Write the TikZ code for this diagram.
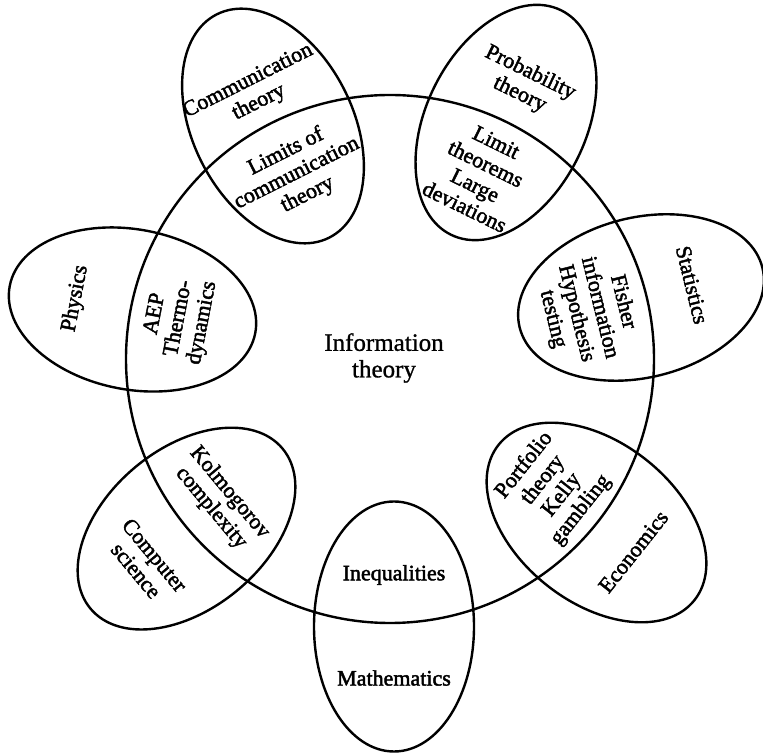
\documentclass[tikz,border=0pt]{standalone}
\usepackage{fontspec}
\setmainfont{Liberation Serif}
\newfontfamily\labelfont{Liberation Serif}[FakeBold=2]
\newfontfamily\hubfont{Liberation Serif}[FakeBold=1]
\begin{document}
\begin{tikzpicture}[x=1pt,y=1pt,
  ring/.style={line width=2.4pt},
  lbl/.style={align=center, font=\labelfont\fontsize{22}{24}\selectfont, inner sep=0pt},
  hub/.style={align=center, font=\hubfont\fontsize{25}{26.5}\selectfont, inner sep=0pt}]
\useasboundingbox (0,0) rectangle (763,755);
\fill[white] (0,0) rectangle (763,755);

% central field
\draw[ring] (390,396) circle (264);
\node[hub] (info) at (384,397) {Information\\theory};

% neighbouring fields: each ellipse lies along the ray from the centre,
% with the outer label beyond the big circle and the shared topics inside it
\begin{scope}[shift={(273,629)}, rotate=116.7]
  \draw[ring] (0,0) ellipse (125 and 80);
  \node[lbl, rotate=26.7] (comm) at (39,2) {Communication\\theory};
  \node[lbl, rotate=26.7] (limits) at (-53,0) {Limits of\\communication\\theory};
\end{scope}

\begin{scope}[shift={(506,632.5)}, rotate=63.9]
  \draw[ring] (0,0) ellipse (125 and 80);
  \node[lbl, rotate=-26.1] (prob) at (43,0) {Probability\\theory};
  \node[lbl, rotate=-26.1] (limthm) at (-58,0) {Limit\\theorems\\Large\\deviations};
\end{scope}

\begin{scope}[shift={(132.5,445.5)}, rotate=169.1]
  \draw[ring] (0,0) ellipse (125 and 80);
  \node[lbl, rotate=79.1] (phys) at (58,0) {Physics};
  \node[lbl, rotate=79.1] (aep) at (-47.5,0) {AEP\\Thermo-\\dynamics};
\end{scope}

\begin{scope}[shift={(641,457.5)}, rotate=13.8]
  \draw[ring] (0,0) ellipse (125 and 80);
  \node[lbl, rotate=-76.2] (stat) at (52.6,0) {Statistics};
  \node[lbl, rotate=-76.2] (fisher) at (-55,0) {Fisher\\information\\Hypothesis\\testing};
\end{scope}

\begin{scope}[shift={(186.5,226.4)}, rotate=219.8]
  \draw[ring] (0,0) ellipse (125 and 80);
  \node[lbl, rotate=-50.2] (cs) at (53.5,0) {Computer\\science};
  \node[lbl, rotate=-50.2] (kolm) at (-44,0) {Kolmogorov\\complexity};
\end{scope}

\begin{scope}[shift={(596.5,232.5)}, rotate=-38.4]
  \draw[ring] (0,0) ellipse (125 and 80);
  \node[lbl, rotate=51.6] (econ) at (47,0) {Economics};
  \node[lbl, rotate=51.6] (port) at (-56,0) {Portfolio\\theory\\Kelly\\gambling};
\end{scope}

\begin{scope}[shift={(394,128.5)}, rotate=-90]
  \draw[ring] (0,0) ellipse (125 and 80);
  \node[lbl] (math) at (51.5,0) {Mathematics};
  \node[lbl] (ineq) at (-51.5,0) {Inequalities};
\end{scope}
\end{tikzpicture}
\end{document}
